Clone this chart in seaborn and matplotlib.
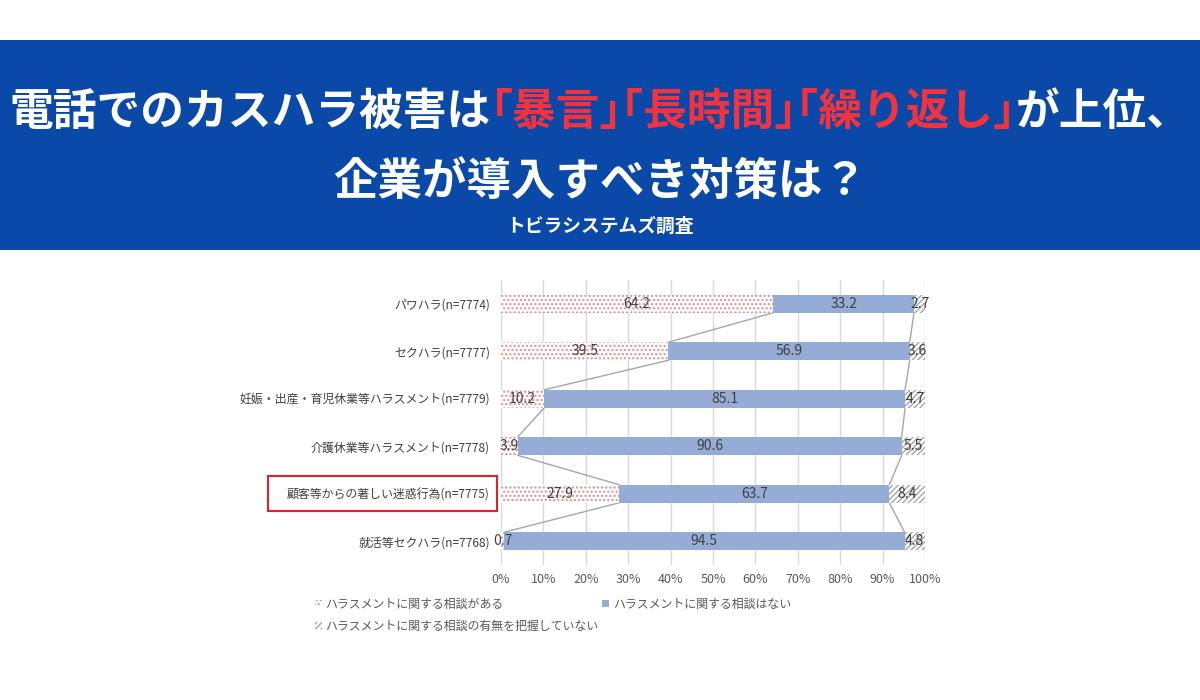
import pandas as pd
import seaborn as sns
import matplotlib.pyplot as plt
from matplotlib.patches import Patch, Rectangle

# data
categories = ['パワハラ(n=7774)', 'セクハラ(n=7777)', '妊娠・出産・育児休業等ハラスメント(n=7779)',
              '介護休業等ハラスメント(n=7778)', '顧客等からの著しい迷惑行為(n=7775)', '就活等セクハラ(n=7768)']
has_consult = [64.2, 39.5, 10.2, 3.9, 27.9, 0.7]
no_consult = [33.2, 56.9, 85.1, 90.6, 63.7, 94.5]
unknown = [2.7, 3.6, 4.7, 5.5, 8.4, 4.8]
series_names = ['ハラスメントに関する相談がある', 'ハラスメントに関する相談はない',
                'ハラスメントに関する相談の有無を把握していない']
x_ticks = list(range(0, 101, 10))

title_pieces = [('電話でのカスハラ被害は', 'white'), ('｢暴言｣｢長時間｣｢繰り返し｣', '#f2333d'), ('が上位、', 'white')]
title_line2 = '企業が導入すべき対策は？'
subtitle = 'トビラシステムズ調査'

sns.set_theme(style='white')
plt.rcParams['font.family'] = ['Noto Sans CJK JP', 'DejaVu Sans']

RED_DOT = '#e58a8f'
BLUE = '#95acd6'
GREY_HATCH = '#a6a6a6'
BAR_W = 0.38

df = pd.DataFrame({'cat': categories, 'a': has_consult, 'b': no_consult, 'c': unknown})
df['ab'] = df['a'] + df['b']
df['abc'] = df['ab'] + df['c']

fig = plt.figure(figsize=(12, 7), dpi=100)
W, H = 1200, 700

# banner
fig.patches.append(Rectangle((0, 1 - 250 / H), 1, 210 / H, transform=fig.transFigure,
                             facecolor='#0a49a8', edgecolor='none', zorder=0))

ax = fig.add_axes([501 / W, 1 - 565 / H, 424 / W, 285 / H])

# stacked bars drawn back to front
sns.barplot(data=df, x='abc', y='cat', orient='h', color='white', edgecolor=GREY_HATCH,
            hatch='//////', linewidth=0, width=BAR_W, saturation=1, ax=ax, zorder=3)
sns.barplot(data=df, x='ab', y='cat', orient='h', color=BLUE, linewidth=0,
            width=BAR_W, saturation=1, ax=ax, zorder=3)
sns.barplot(data=df, x='a', y='cat', orient='h', color='white', edgecolor=RED_DOT,
            hatch='....', linewidth=0, width=BAR_W, saturation=1, ax=ax, zorder=3)

# series lines
for col in ['a', 'ab']:
    for i in range(len(df) - 1):
        ax.plot([df[col][i], df[col][i + 1]], [i + BAR_W / 2, i + 1 - BAR_W / 2],
                color='#a6a6a6', lw=1, zorder=2)

# data labels
for i, row in df.iterrows():
    for start, val in [(0, row['a']), (row['a'], row['b']), (row['ab'], row['c'])]:
        ax.text(start + val / 2, i, f'{val:.1f}', ha='center', va='center',
                fontsize=10, color='#404040', zorder=5)

ax.set_xlim(0, 100)
ax.set_ylim(len(df) - 0.5, -0.5)
ax.set_xticks(x_ticks)
ax.set_xticklabels([f'{t}%' for t in x_ticks], fontsize=9, color='#595959')
ax.set_yticks(range(len(df)))
ax.set_yticklabels(categories, fontsize=8.6, color='#404040')
ax.tick_params(axis='x', length=0, pad=6)
ax.tick_params(axis='y', length=0, pad=8)
ax.set_xlabel('')
ax.set_ylabel('')
for x in x_ticks:
    ax.axvline(x, color='#d9d9d9', lw=1, zorder=1)
sns.despine(ax=ax, left=True, bottom=True)

# red box around one category label
fig.patches.append(Rectangle((268 / W, 1 - 511 / H), 229 / W, 35 / H, transform=fig.transFigure,
                             fill=False, edgecolor='#d9262c', lw=1.5))

# legend
handles = [Patch(facecolor='white', edgecolor=RED_DOT, hatch='....', lw=0, label=series_names[0]),
           Patch(facecolor='white', edgecolor=GREY_HATCH, hatch='//////', lw=0, label=series_names[2]),
           Patch(facecolor=BLUE, edgecolor='none', label=series_names[1])]
leg = fig.legend(handles=handles, ncol=2, loc='upper left', bbox_to_anchor=(310 / W, 1 - 593 / H),
                 frameon=False, fontsize=8.6, handlelength=0.6, handleheight=0.6,
                 handletextpad=0.3, columnspacing=0.3, labelspacing=0.75, borderaxespad=0)
for t in leg.get_texts():
    t.set_color('#595959')

# title with coloured part
renderer = fig.canvas.get_renderer()
texts = []
for s, c in title_pieces:
    texts.append(fig.text(0, 1 - 112 / H, s, color=c, fontsize=31.5, fontweight='bold',
                          va='center', ha='left'))
widths = [t.get_window_extent(renderer).width for t in texts]
x = (W - sum(widths)) / 2
for t, w in zip(texts, widths):
    t.set_x(x / W)
    x += w
fig.text(0.5, 1 - 182 / H, title_line2, color='white', fontsize=32, fontweight='bold',
         ha='center', va='center')
fig.text(0.5, 1 - 226 / H, subtitle, color='white', fontsize=13.5, fontweight='bold',
         ha='center', va='center')

fig.savefig('out.png', dpi=100)
